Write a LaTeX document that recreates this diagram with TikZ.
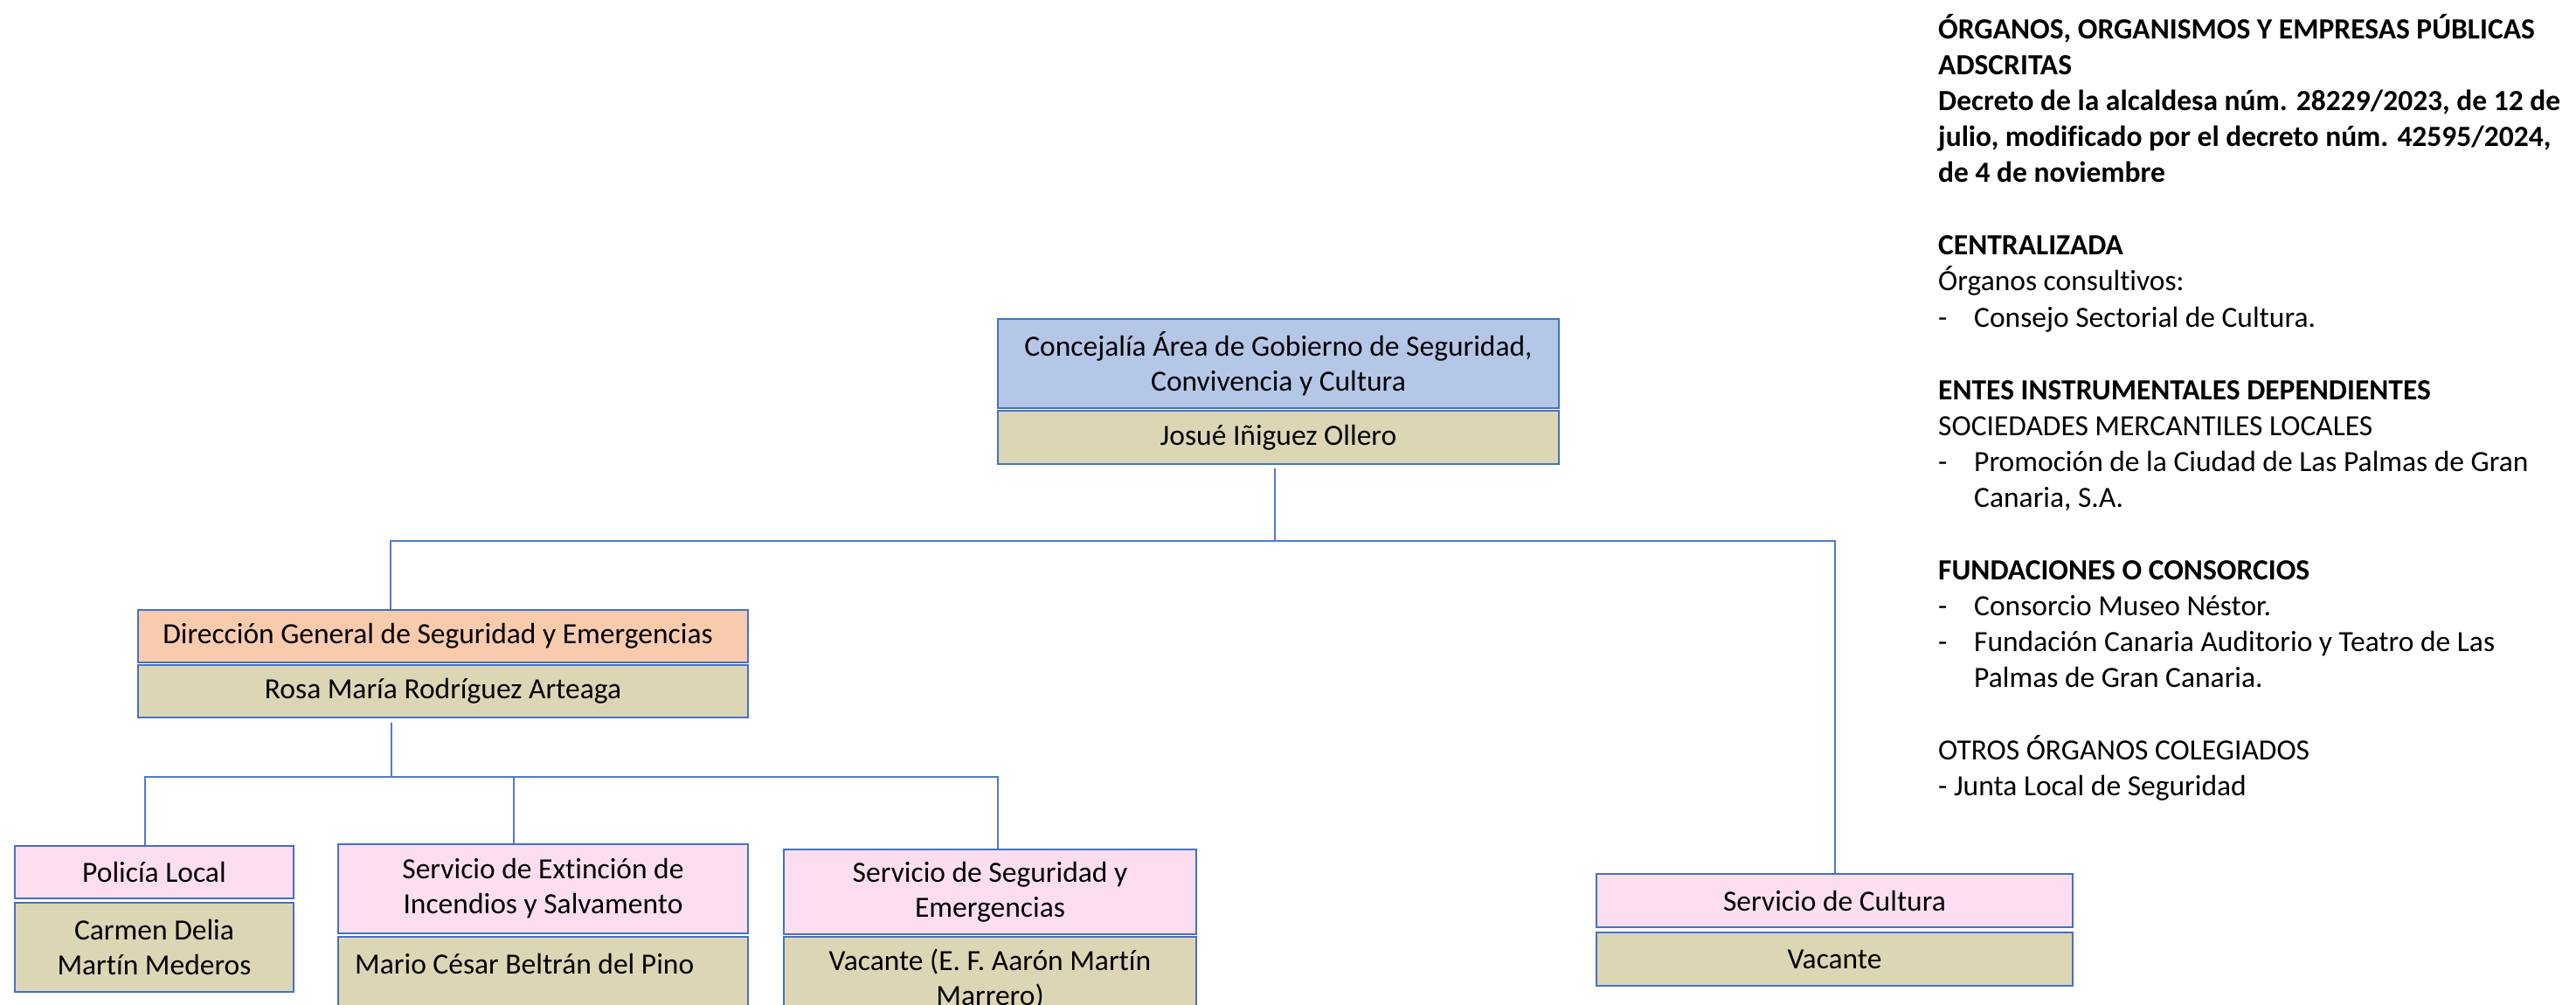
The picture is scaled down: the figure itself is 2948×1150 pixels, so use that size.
\documentclass[tikz,border=0pt]{standalone}
\usepackage{fontspec}
\setmainfont[Ligatures=NoCommon]{Carlito}
\definecolor{bordc}{HTML}{4472C4}
\definecolor{connc}{HTML}{4F7BD0}
\definecolor{bluef}{HTML}{B4C7E7}
\definecolor{tanf}{HTML}{DDD6B5}
\definecolor{pinkf}{HTML}{FCDEF0}
\definecolor{orangef}{HTML}{F8CBAD}
\begin{document}
\begin{tikzpicture}[x=1pt,y=-1pt,
  box/.style={draw=bordc, line width=2.2pt, inner sep=0pt, align=center,
    font=\fontsize{33.5}{40}\selectfont},
  txt/.style={inner sep=0pt, align=center, font=\fontsize{33.5}{40}\selectfont},
  conn/.style={draw=connc, line width=1.6pt},
  rt/.style={anchor=base west, inner sep=0pt, font=\fontsize{33.5}{41}\selectfont},
  rtb/.style={rt, font=\fontsize{33.5}{41}\selectfont\bfseries}]
\clip (0,0) rectangle (2948,1150);
\fill[white] (0,0) rectangle (2948,1150);

% top
\node[box, fill=bluef, minimum width=642pt, minimum height=102pt] (conc) at (1463,416)
  {Concejalía Área de Gobierno de Seguridad,\\Convivencia y Cultura};
\node[box, fill=tanf, minimum width=642pt, minimum height=61pt] (concn) at (1463,500.5)
  {Josué Iñiguez Ollero};

% DG
\node[box, fill=orangef, minimum width=698pt, minimum height=60pt] (dg) at (507,728)
  {Dirección General de Seguridad y Emergencias\hspace*{12pt}};
\node[box, fill=tanf, minimum width=698pt, minimum height=60pt] (dgn) at (507,791)
  {Rosa María Rodríguez Arteaga};

% Policia
\node[box, fill=pinkf, minimum width=319pt, minimum height=60pt] (pol) at (176.5,998)
  {Policía Local};
\node[box, fill=tanf, minimum width=319pt, minimum height=102pt] (poln) at (176.5,1084)
  {Carmen Delia\\Martín Mederos};

% Extincion
\node[box, fill=pinkf, minimum width=469pt, minimum height=102pt] (ext) at (621.5,1017)
  {Servicio de Extinción de\\Incendios y Salvamento};
\node[box, fill=tanf, minimum width=469pt, minimum height=128pt] (extn) at (621.5,1136) {};
\node[txt, anchor=west] (extt) at (406,1103) {Mario César Beltrán del Pino};

% Seguridad
\node[box, fill=pinkf, minimum width=472pt, minimum height=97pt] (seg) at (1133,1020.5)
  {Servicio de Seguridad y\\Emergencias};
\node[box, fill=tanf, minimum width=472pt, minimum height=128pt] (segn) at (1133,1136) {};
\node[txt] (segt) at (1133,1121) {Vacante (E. F. Aarón Martín\\Marrero)};

% Cultura
\node[box, fill=pinkf, minimum width=545pt, minimum height=61pt] (cul) at (2099.5,1030.5)
  {Servicio de Cultura};
\node[box, fill=tanf, minimum width=545pt, minimum height=61pt] (culn) at (2099.5,1097.5)
  {Vacante};

% connectors
\coordinate (b1l) at (447,619);
\coordinate (b1r) at (2100,619);
\coordinate (b1c) at (1459,619);
\draw[conn] (b1c |- concn.south) ++(0,4) -- (b1c);
\draw[conn] (dg.north -| b1l) -- (b1l) -- (b1r) -- (b1r |- cul.north);

\coordinate (b2l) at (166,889);
\coordinate (b2m) at (588,889);
\coordinate (b2s) at (448,889);
\coordinate (b2r) at (1142,889);
\draw[conn] (b2s |- dgn.south) ++(0,5) -- (b2s);
\draw[conn] (pol.north -| b2l) -- (b2l) -- (b2r) -- (seg.north -| b2r);
\draw[conn] (b2m) -- (ext.north -| b2m);

% right text
\node[rtb] (r0) at (2218,45) {ÓRGANOS, ORGANISMOS Y EMPRESAS PÚBLICAS};
\node[rtb] (r1) at (2218,86) {ADSCRITAS};
\node[rtb] (r2) at (2218,127) {Decreto de la alcaldesa núm. 28229/2023, de 12 de};
\node[rtb] (r3) at (2218,168) {julio, modificado por el decreto núm. 42595/2024,};
\node[rtb] (r4) at (2218,209) {de 4 de noviembre};
\node[rtb] (r5) at (2218,292) {CENTRALIZADA};
\node[rt] (r6) at (2218,333) {Órganos consultivos:};
\node[rt] (r7) at (2218,374) {\makebox[41pt][l]{-}Consejo Sectorial de Cultura.};
\node[rtb] (r8) at (2218,457) {ENTES INSTRUMENTALES DEPENDIENTES};
\node[rt] (r9) at (2218,498) {SOCIEDADES MERCANTILES LOCALES};
\node[rt] (r10) at (2218,539) {\makebox[41pt][l]{-}Promoción de la Ciudad de Las Palmas de Gran};
\node[rt] (r11) at (2259,580) {Canaria, S.A.};
\node[rtb] (r12) at (2218,663) {FUNDACIONES O CONSORCIOS};
\node[rt] (r13) at (2218,704) {\makebox[41pt][l]{-}Consorcio Museo Néstor.};
\node[rt] (r14) at (2218,745) {\makebox[41pt][l]{-}Fundación Canaria Auditorio y Teatro de Las};
\node[rt] (r15) at (2259,786) {Palmas de Gran Canaria.};
\node[rt] (r16) at (2218,869) {OTROS ÓRGANOS COLEGIADOS};
\node[rt] (r17) at (2218,910) {- Junta Local de Seguridad};
\end{tikzpicture}
\end{document}
